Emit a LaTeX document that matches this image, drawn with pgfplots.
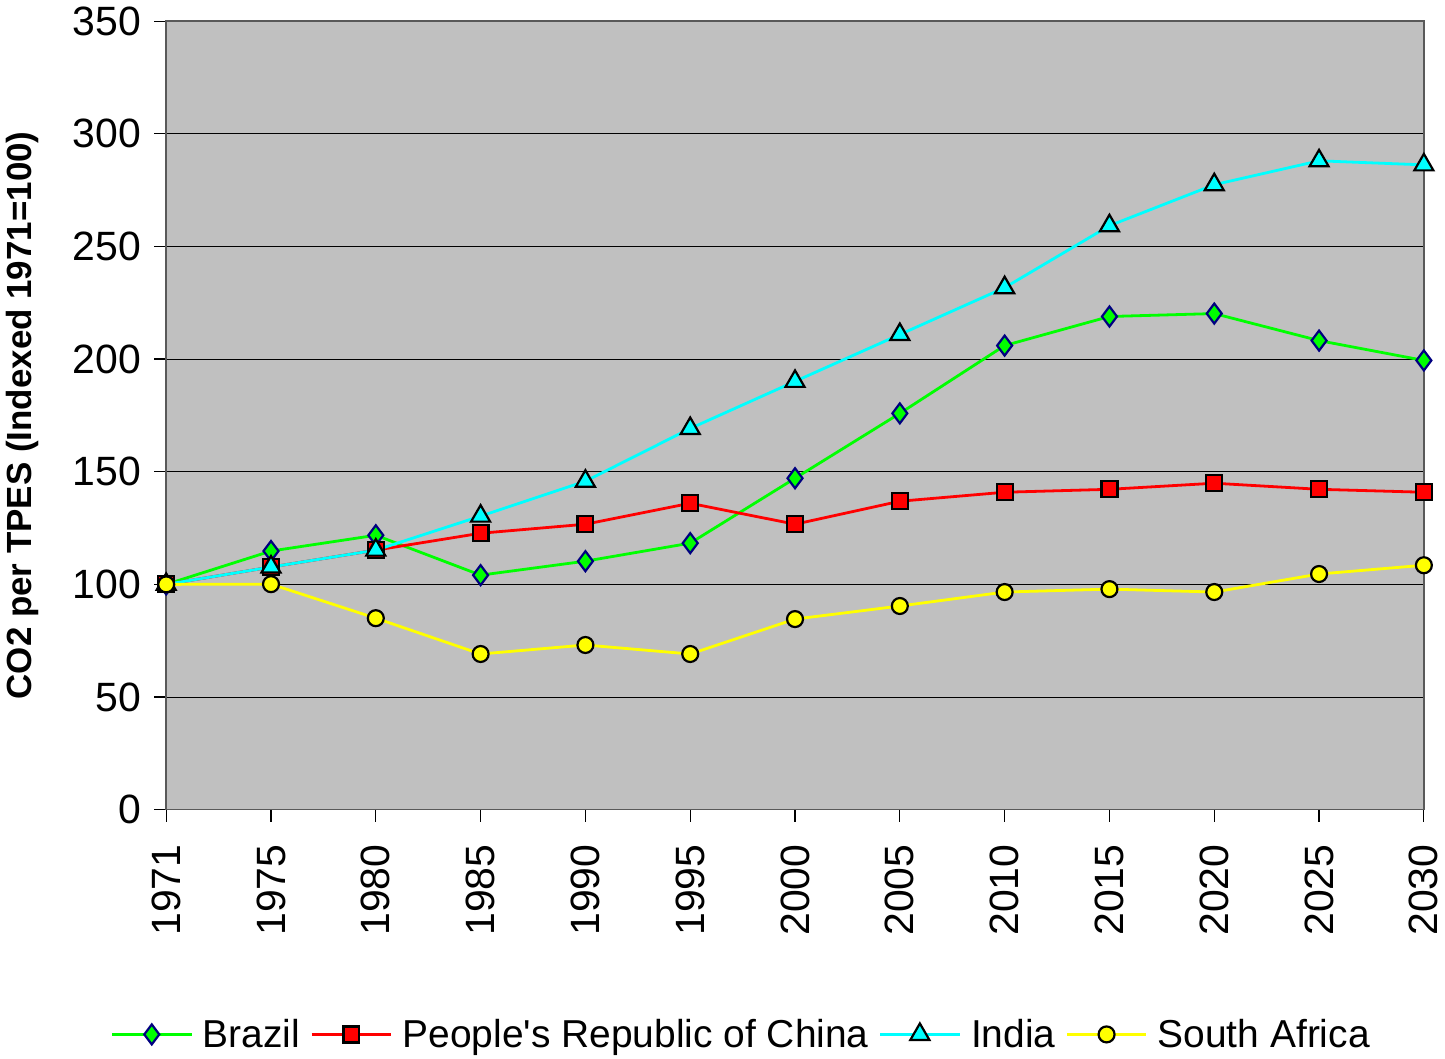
\documentclass[border=0pt]{standalone}
\usepackage{pgfplots}
\pgfplotsset{compat=1.18}
\usepackage{fontspec}
\setmainfont{Liberation Sans}
\definecolor{plotbg}{RGB}{192,192,192}
\definecolor{navy}{RGB}{0,0,128}
\definecolor{brgreen}{RGB}{0,255,0}
\definecolor{incyan}{RGB}{0,255,255}
\definecolor{sayellow}{RGB}{255,255,0}

\begin{document}
\begin{tikzpicture}
  \begin{axis}[
    scale only axis,
    width=630pt, height=395pt,
    xmin=0, xmax=12,
    ymin=0, ymax=350,
    xtick={0,...,12},
    xticklabels={1971,1975,1980,1985,1990,1995,2000,2005,2010,2015,2020,2025,2030},
    x tick label style={rotate=90, anchor=east, xshift=-8pt, font=\fontsize{20.5}{22}\selectfont},
    ytick={0,50,...,350},
    y tick label style={xshift=-3pt, font=\fontsize{20.5}{22}\selectfont},
    /pgf/number format/assume math mode=true,
    tick align=outside,
    tick style={black, line width=0.6pt},
    major tick length=6pt,
    xtick pos=bottom, ytick pos=left,
    ymajorgrids,
    major grid style={black, line width=0.4pt},
    axis background/.style={fill=plotbg},
    axis line style={draw=gray!70!black, line width=0.8pt},
    ylabel={\bfseries CO2 per TPES (Indexed 1971=100)},
    ylabel style={font=\fontsize{17.5}{20}\selectfont, at={(ticklabel cs:0.5)}, anchor=south, yshift=10pt},
    legend columns=4,
    legend style={at={(0.458,-0.285)}, anchor=center, draw=none, fill=none,
      font=\fontsize{19.5}{22}\selectfont, column sep=3pt},
    legend image post style={line width=1.4pt},
    legend image code/.code={
      \draw[mark repeat=2, mark phase=2, #1]
        plot coordinates {(0cm,0cm) (0.7cm,0cm) (1.4cm,0cm)};},
  ]
  \addplot[brgreen, line width=1.4pt, mark=diamond*, mark size=5pt,
    mark options={fill=brgreen, draw=navy, line width=1.1pt}]
    coordinates {(0,100) (1,114.8) (2,121.8) (3,104.1) (4,110.3) (5,118.3)
      (6,147.1) (7,175.9) (8,206) (9,218.9) (10,220.2) (11,208.2) (12,199.4)};
  \addlegendentry{Brazil}
  \addplot[red, line width=1.4pt, mark=square*, mark size=4pt,
    mark options={fill=red, draw=black, line width=1.1pt}]
    coordinates {(0,100) (1,107.7) (2,115.2) (3,122.7) (4,126.7) (5,136)
      (6,126.7) (7,136.9) (8,140.9) (9,142.2) (10,144.9) (11,142.2) (12,140.9)};
  \addlegendentry{People\textquotesingle s Republic of China}
  \addplot[incyan, line width=1.4pt, mark=triangle*, mark size=5.5pt,
    mark options={fill=incyan, draw=black, line width=1.1pt}]
    coordinates {(0,100) (1,107.7) (2,115.2) (3,130.3) (4,145.8) (5,169.2)
      (6,190.1) (7,210.9) (8,231.7) (9,259.2) (10,277.4) (11,288) (12,286.2)};
  \addlegendentry{India}
  \addplot[sayellow, line width=1.4pt, mark=*, mark size=4pt,
    mark options={fill=sayellow, draw=black, line width=1.1pt}]
    coordinates {(0,100) (1,100.1) (2,85) (3,69.1) (4,73.1) (5,69.1)
      (6,84.6) (7,90.4) (8,96.6) (9,97.9) (10,96.6) (11,104.6) (12,108.5)};
  \addlegendentry{South Africa}
  \end{axis}
\end{tikzpicture}
\end{document}
